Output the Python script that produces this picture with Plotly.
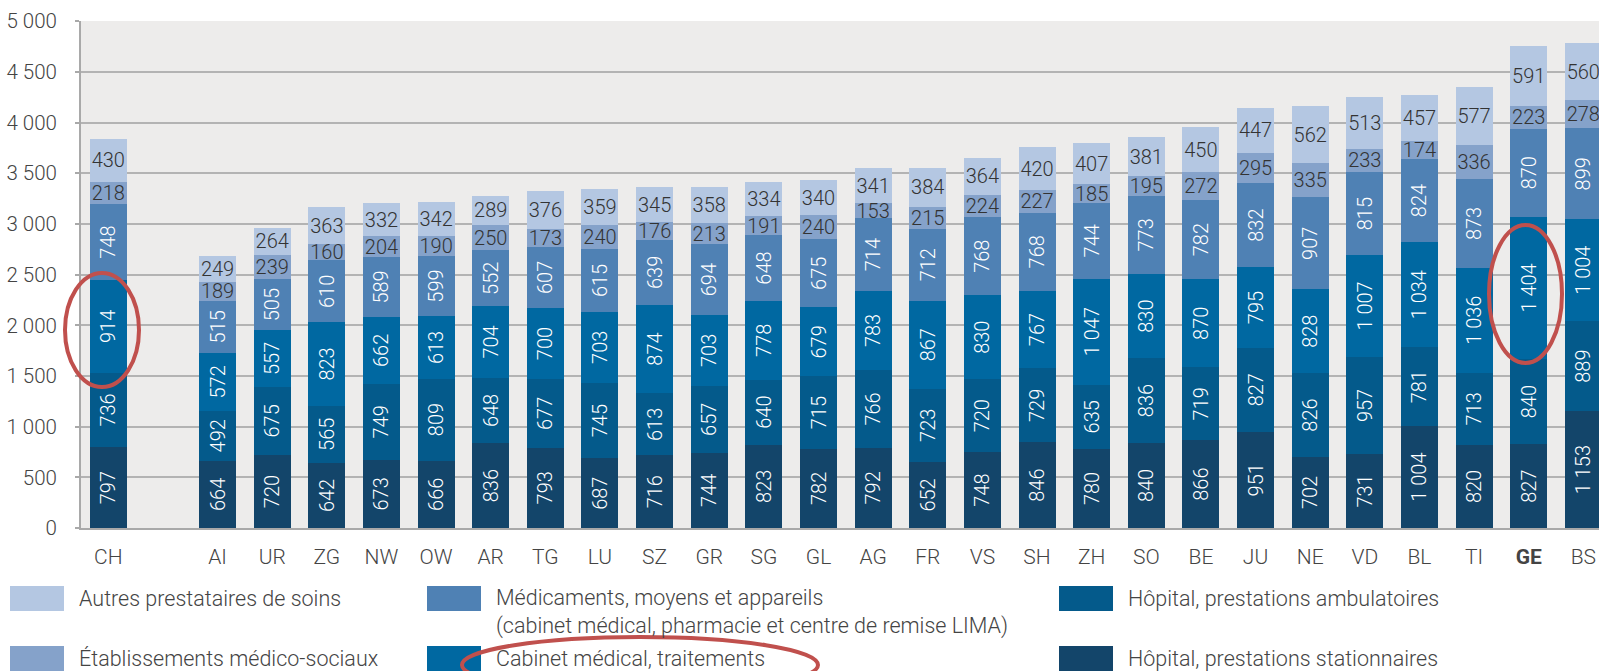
import plotly.graph_objects as go

# ---------------- data ----------------
regions = ["CH", "AI", "UR", "ZG", "NW", "OW", "AR", "TG", "LU", "SZ", "GR", "SG", "GL",
           "AG", "FR", "VS", "SH", "ZH", "SO", "BE", "JU", "NE", "VD", "BL", "TI", "GE", "BS"]

hopital_stationnaire = [797, 664, 720, 642, 673, 666, 836, 793, 687, 716, 744, 823, 782,
                        792, 652, 748, 846, 780, 840, 866, 951, 702, 731, 1004, 820, 827, 1153]
hopital_ambulatoire = [736, 492, 675, 565, 749, 809, 648, 677, 745, 613, 657, 640, 715,
                       766, 723, 720, 729, 635, 836, 719, 827, 826, 957, 781, 713, 840, 889]
cabinet_traitements = [914, 572, 557, 823, 662, 613, 704, 700, 703, 874, 703, 778, 679,
                       783, 867, 830, 767, 1047, 830, 870, 795, 828, 1007, 1034, 1036, 1404, 1004]
medicaments = [748, 515, 505, 610, 589, 599, 552, 607, 615, 639, 694, 648, 675,
               714, 712, 768, 768, 744, 773, 782, 832, 907, 815, 824, 873, 870, 899]
ems = [218, 189, 239, 160, 204, 190, 250, 173, 240, 176, 213, 191, 240,
       153, 215, 224, 227, 185, 195, 272, 295, 335, 233, 174, 336, 223, 278]
autres = [430, 249, 264, 363, 332, 342, 289, 376, 359, 345, 358, 334, 340,
          341, 384, 364, 420, 407, 381, 450, 447, 562, 513, 457, 577, 591, 560]

series_names = [
    "Hôpital, prestations stationnaires",
    "Hôpital, prestations ambulatoires",
    "Cabinet médical, traitements",
    "Médicaments, moyens et appareils<br>(cabinet médical, pharmacie et centre de remise LIMA)",
    "Établissements médico-sociaux",
    "Autres prestataires de soins",
]
series_values = [hopital_stationnaire, hopital_ambulatoire, cabinet_traitements,
                 medicaments, ems, autres]
series_colors = ["#13456A", "#045A8B", "#0068A1", "#4F81B4", "#85A2CA", "#B4C7E2"]
y_ticks = [0, 500, 1000, 1500, 2000, 2500, 3000, 3500, 4000, 4500, 5000]

# ---------------- layout helpers ----------------
W, H = 1599, 671
L, T, B = 81, 21, 143
PW, PH = W - L, H - T - B
CAT_PX = 54.63


def px_x(p):
    return (p - L) / PW


def px_y(p):
    return (H - B - p) / PH


# CH, a blank slot, then the cantons
xpos = [0] + list(range(2, 2 + len(regions) - 1))
ticktext = [f"<b>{r}</b>" if r == "GE" else r for r in regions]

fig = go.Figure()
for i, (name, vals, col) in enumerate(zip(series_names, series_values, series_colors)):
    light = i >= 4
    fig.add_trace(go.Bar(
        x=xpos, y=vals, name=name, marker=dict(color=col, line=dict(width=0)),
        text=[f"{v:,}".replace(",", " ") for v in vals],
        texttemplate="%{text}",
        textposition="inside", insidetextanchor="middle",
        constraintext="none",
        textangle=0 if light else -90,
        textfont=dict(family="Roboto", size=20, color="#333333" if light else "#FFFFFF",
                      weight=300),
        showlegend=False, hoverinfo="skip",
    ))

fig.update_layout(
    width=W, height=H,
    margin=dict(l=L, r=0, t=T, b=B, pad=0),
    barmode="stack", bargap=0.323,
    paper_bgcolor="#FFFFFF", plot_bgcolor="#EDECEB",
    font=dict(family="Roboto", color="#444444"),
    separators=", ",
    showlegend=False,
    xaxis=dict(
        range=[-0.5, -0.5 + PW / CAT_PX],
        tickvals=xpos, ticktext=ticktext,
        tickfont=dict(size=21, color="#444444", family="Roboto", weight=300),
        showgrid=False, zeroline=False,
        showline=True, linecolor="#A9A9A9", linewidth=2,
        ticks="", ticklabelstandoff=9,
    ),
    yaxis=dict(
        range=[0, 5003], tickvals=y_ticks,
        ticktext=[f"{v:,}".replace(",", " ") for v in y_ticks],
        tickfont=dict(size=20.5, color="#444444", family="Roboto", weight=300),
        showgrid=True, gridcolor="#B3B3B3", gridwidth=2,
        zeroline=False, showline=True, linecolor="#A9A9A9", linewidth=2,
        ticks="outside", ticklen=4, tickcolor="#A9A9A9", tickwidth=2,
        ticklabelstandoff=14,
    ),
)

# ---------------- manual legend ----------------
legend_order = [5, 3, 1, 4, 2, 0]   # indices into series lists, row-major (3 columns)
col_x = [10, 427, 1059]
row_y = [586, 646]
SW_W, SW_H = 54, 25
shapes = []
annotations = []
for k, si in enumerate(legend_order):
    r, c = divmod(k, 3)
    x0, y0 = col_x[c], row_y[r]
    shapes.append(dict(type="rect", xref="paper", yref="paper",
                       x0=px_x(x0), x1=px_x(x0 + SW_W), y0=px_y(y0 + SW_H), y1=px_y(y0),
                       fillcolor=series_colors[si], line=dict(width=0)))
    name = series_names[si]
    two_lines = "<br>" in name
    yc = y0 + SW_H / 2 + (13 if two_lines else 0)
    annotations.append(dict(xref="paper", yref="paper", x=px_x(x0 + 67), y=px_y(yc),
                            text=name, showarrow=False, xanchor="left", yanchor="middle",
                            align="left",
                            font=dict(family="Roboto", size=21.5, color="#444444", weight=300)))

# red highlight ellipses
red = "#C0504D"
for (x0, x1, y0, y1) in [(65, 139, 273, 387), (1489, 1562, 225, 363), (462, 818, 637, 693)]:
    shapes.append(dict(type="circle", xref="paper", yref="paper",
                       x0=px_x(x0), x1=px_x(x1), y0=px_y(y1), y1=px_y(y0),
                       line=dict(color=red, width=4), fillcolor="rgba(0,0,0,0)", layer="above"))

fig.update_layout(shapes=shapes, annotations=annotations)
fig.write_html("out.html", config={"displayModeBar": False},
               post_script="document.body.style.margin='0';document.body.style.overflow='hidden';")
